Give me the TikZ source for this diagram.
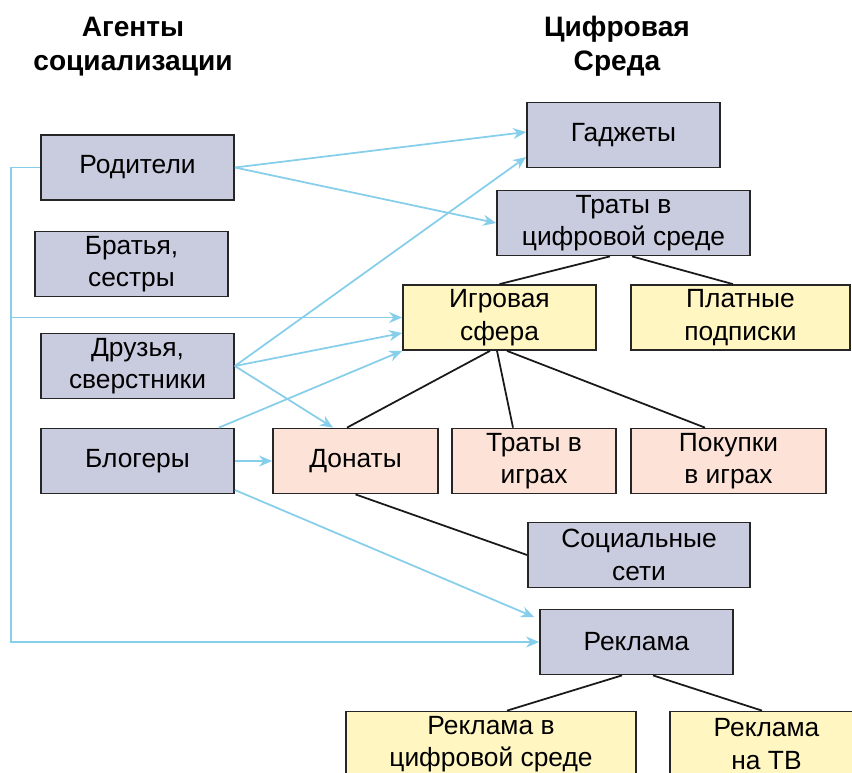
\documentclass[tikz,border=0pt]{standalone}
\usepackage{fontspec}
\setmainfont{Liberation Sans}
\usetikzlibrary{arrows.meta}

\definecolor{boxgray}{HTML}{C9CBDF}
\definecolor{boxyellow}{HTML}{FFF6C2}
\definecolor{boxpink}{HTML}{FDE2D8}
\definecolor{arrowblue}{HTML}{87CEEB}

\begin{document}
\begin{tikzpicture}[>={Stealth[length=0.26cm,width=0.22cm]},
    box/.style={draw=black!85, line width=1pt, minimum height=1.3cm, align=center,
        inner sep=0pt, font=\fontsize{15}{18.4}\selectfont},
    gray/.style={box, fill=boxgray},
    yellow/.style={box, fill=boxyellow},
    pink/.style={box, fill=boxpink},
    head/.style={align=center, font=\fontsize{16}{19.5}\selectfont\bfseries},
    link/.style={->, arrowblue, line width=1pt},
    tree/.style={black!90, line width=1pt}]
    \useasboundingbox (0,0) rectangle (17.04,-15.44);

    % headers
    \node[head] (hagent) at (2.66,-0.93) {Агенты\\социализации};
    \node[head] (hdigit) at (12.34,-0.93) {Цифровая\\Среда};

    % agents
    \node[gray, minimum width=3.86cm] (rod) at (2.75,-3.35) {Родители};
    \node[gray, minimum width=3.86cm] (brat) at (2.63,-5.28) {Братья,\\сестры};
    \node[gray, minimum width=3.86cm] (dru) at (2.75,-7.32) {Друзья,\\сверстники};
    \node[gray, minimum width=3.86cm] (blog) at (2.75,-9.22) {Блогеры};

    % digital environment
    \node[gray, minimum width=3.86cm] (gadg) at (12.47,-2.70) {Гаджеты};
    \node[gray, minimum width=5.06cm] (trat) at (12.47,-4.46) {Траты в\\цифровой среде};
    \node[yellow, minimum width=3.86cm] (igr) at (9.99,-6.35) {Игровая\\сфера};
    \node[yellow, minimum width=4.38cm] (plat) at (14.81,-6.35) {Платные\\подписки};
    \node[pink, minimum width=3.30cm] (don) at (7.11,-9.22) {Донаты};
    \node[pink, minimum width=3.28cm] (tig) at (10.68,-9.22) {Траты в\\играх};
    \node[pink, minimum width=3.90cm] (pok) at (14.57,-9.22) {Покупки\\в играх};
    \node[gray, minimum width=4.44cm] (soc) at (12.78,-11.10) {Социальные\\сети};
    \node[gray, minimum width=3.86cm] (rek) at (12.73,-12.84) {Реклама};
    \node[yellow, minimum width=5.80cm] (rcs) at (9.82,-14.88) {Реклама в\\цифровой среде};
    \node[yellow, minimum width=3.86cm] (rtv) at (15.33,-14.88) {Реклама\\на ТВ};

    % tree lines
    \draw[tree] ([xshift=-0.27cm]trat.south) -- (igr.north);
    \draw[tree] ([xshift=0.17cm]trat.south) -- ([xshift=-0.15cm]plat.north);
    \draw[tree] ([xshift=-0.19cm]igr.south) -- ([xshift=-0.17cm]don.north);
    \draw[tree] ([xshift=-0.05cm]igr.south) -- ([xshift=-0.42cm]tig.north);
    \draw[tree] ([xshift=0.15cm]igr.south) -- ([xshift=-0.47cm]pok.north);
    \draw[tree] (don.south) -- (soc.west);
    \draw[tree] ([xshift=-0.29cm]rek.south) -- ([xshift=0.32cm]rcs.north);
    \draw[tree] ([xshift=0.33cm]rek.south) -- ([xshift=-0.09cm]rtv.north);

    % influence arrows
    \draw[link] (rod.east) -- ([yshift=0.06cm]gadg.west);
    \draw[link] (rod.east) -- (trat.west);
    \draw[link] (rod.west) -- ++(-0.58,0) coordinate (bend) |- (rek.west);
    \draw[link] (bend |- igr.west) -- (igr.west);
    \draw[link] (dru.east) -- ([yshift=-0.44cm]gadg.west);
    \draw[link] (dru.east) -- ([yshift=-0.31cm]igr.west);
    \draw[link] (dru.east) -- ([xshift=-0.45cm]don.north);
    \draw[link] ([xshift=-0.32cm]blog.north east) -- (igr.south west);
    \draw[link] (blog.east) -- (don.west);
    \draw[link] ([yshift=-0.58cm]blog.east) -- ([xshift=-0.1cm,yshift=0.5cm]rek.west);
\end{tikzpicture}
\end{document}
